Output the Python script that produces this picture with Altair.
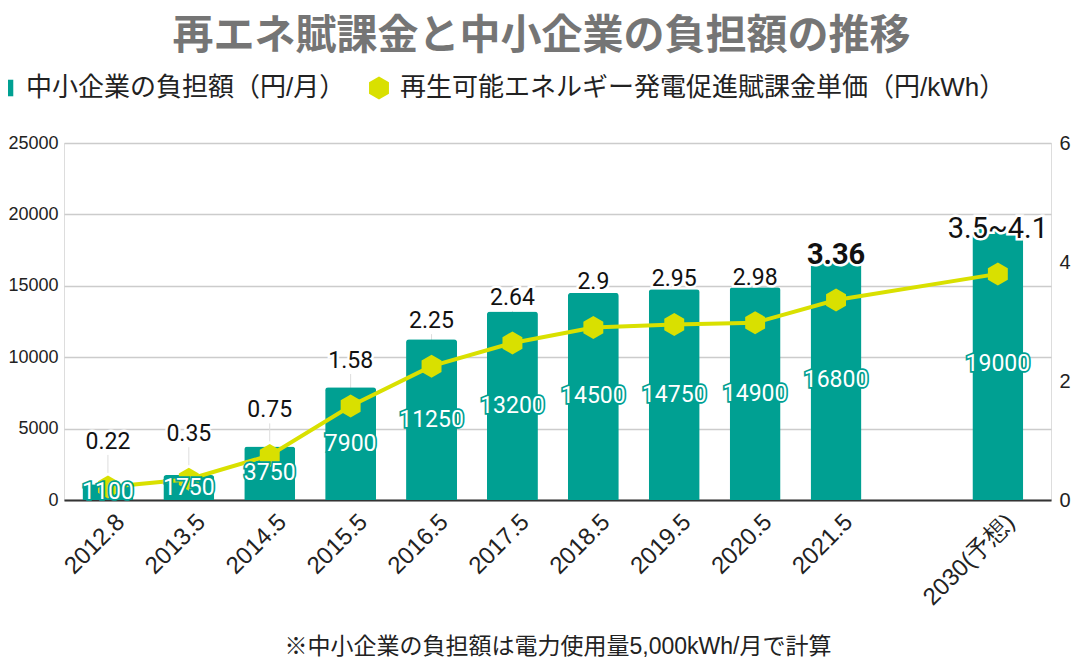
import altair as alt
import pandas as pd

# ---- data ----
categories = ["2012.8", "2013.5", "2014.5", "2015.5", "2016.5", "2017.5",
              "2018.5", "2019.5", "2020.5", "2021.5", " ", "2030(予想)"]
burden = [1100, 1750, 3750, 7900, 11250, 13200, 14500, 14750, 14900, 16800, None, 19000]
rate = [0.22, 0.35, 0.75, 1.58, 2.25, 2.64, 2.9, 2.95, 2.98, 3.36, None, 3.8]
rate_labels = ["0.22", "0.35", "0.75", "1.58", "2.25", "2.64", "2.9", "2.95",
               "2.98", "3.36", "", "3.5~4.1"]
rate_label_size = [23, 23, 23, 23, 23, 23, 23, 23, 23, 29, 0, 29]
rate_label_bold = [0, 0, 0, 0, 0, 0, 0, 0, 0, 1, 0, 0]

S1 = "中小企業の負担額（円/月）"
S2 = "再生可能エネルギー発電促進賦課金単価（円/kWh）"
TEAL = "#00a092"
YELLOW = "#d9e000"
HEX = "M0,-1L0.866,-0.5L0.866,0.5L0,1L-0.866,0.5L-0.866,-0.5Z"
SQUARE = "M-0.72,-0.72H0.72V0.72H-0.72Z"

bar_df = pd.DataFrame({"cat": categories, "burden": burden, "series": S1}).dropna()
line_df = pd.DataFrame({
    "cat": categories, "rate": rate, "label": rate_labels,
    "fs": rate_label_size, "bold": rate_label_bold, "series": S2,
}).dropna()
line_df["idx"] = range(len(line_df))

NUMFONT = "Roboto"
AXFONT = "Liberation Sans"
xscale = alt.Scale(domain=categories, paddingInner=0.37, paddingOuter=0.285, align=0.4)
yleft = alt.Scale(domain=[0, 25000], nice=False)
yright = alt.Scale(domain=[0, 6], nice=False)
legend = alt.Legend(
    title=None, orient="none", direction="horizontal", legendX=-72, legendY=-68,
    labelFontSize=26, labelFont="Liberation Sans, Noto Sans CJK JP", labelColor="#222",
    labelLimit=0, symbolSize=529, symbolStrokeWidth=0, labelOffset=8,
    columnPadding=20, padding=0,
)
color = alt.Color("series:N", scale=alt.Scale(domain=[S1, S2], range=[TEAL, YELLOW]),
                  legend=legend)
shape = alt.Shape("series:N", scale=alt.Scale(domain=[S1, S2], range=[SQUARE, HEX]),
                  legend=legend)

X = alt.X("cat:N", scale=xscale, sort=categories)
x_enc = alt.X("cat:N", scale=xscale, sort=categories, axis=alt.Axis(
    title="※中小企業の負担額は電力使用量5,000kWh/月で計算",
    titleFontSize=23, titleFont="Liberation Sans, Noto Sans CJK JP", titleFontWeight="normal",
    titleColor="#222", titleY=146, titleBaseline="middle",
    labelAngle=315, labelFontSize=24, labelFont=AXFONT, labelColor="#222",
    labelOffset=13, labelPadding=18, ticks=False, domainColor="#333", domainWidth=2,
))

def yl(field):
    return alt.Y(field, scale=yleft, axis=None)

def yr(field):
    return alt.Y(field, scale=yright, axis=None)

# leader lines (drawn behind the bars)
leaders = alt.Chart(line_df).mark_rule(color="#dddddd", strokeWidth=1, yOffset=-32, y2Offset=-14).encode(
    x=X, y=yr("rate:Q"), y2="rate:Q",
)

bars = alt.Chart(bar_df).mark_bar(cornerRadiusTopLeft=3, cornerRadiusTopRight=3).encode(
    x=x_enc,
    y=alt.Y("burden:Q", scale=yleft, axis=alt.Axis(
        title=None, orient="left", values=[0, 5000, 10000, 15000, 20000, 25000], format="d",
        grid=True, gridColor="#cccccc", gridWidth=1.5, domain=False, ticks=False,
        labelFontSize=18, labelFont=AXFONT, labelColor="#222", labelPadding=6)),
    color=color,
)

line = alt.Chart(line_df).mark_line(color=YELLOW, strokeWidth=4).encode(
    x=X,
    y=alt.Y("rate:Q", scale=yright, axis=alt.Axis(
        title=None, orient="right", values=[0, 2, 4, 6], grid=False, domain=False,
        ticks=False, labelFontSize=20, labelFont=AXFONT, labelColor="#222",
        labelPadding=8)),
    order="idx:Q",
)
points = alt.Chart(line_df).mark_point(filled=True, size=529, opacity=1).encode(
    x=X, y=yr("rate:Q"), color=color, shape=shape,
)

bar_base = alt.Chart(bar_df).transform_calculate(half="datum.burden / 2").encode(
    x=X, y=yl("half:Q"), text="burden:Q",
)
bar_halo = bar_base.mark_text(font=NUMFONT, fontSize=23, fill=TEAL, stroke=TEAL,
                              strokeWidth=3.5, baseline="middle")
bar_text = bar_base.mark_text(font=NUMFONT, fontSize=23, fill="white", baseline="middle")

lab_base = alt.Chart(line_df).encode(
    x=X, y=yr("rate:Q"), text="label:N",
    size=alt.Size("fs:Q", scale=None, legend=None),
)
lab_layers = []
for cond, weight in (("datum.bold == 0", "normal"), ("datum.bold == 1", "bold")):
    sub = lab_base.transform_filter(cond)
    lab_layers.append(sub.mark_text(font=NUMFONT, fontWeight=weight, dy=-45, baseline="middle",
                                    fill="white", stroke="white", strokeWidth=5))
    lab_layers.append(sub.mark_text(font=NUMFONT, fontWeight=weight, dy=-45, baseline="middle",
                                    fill="#111"))

chart = alt.layer(leaders, bars, line, points, bar_halo, bar_text, *lab_layers).resolve_scale(
    y="independent"
).properties(
    width=987, height=357,
    autosize=alt.AutoSizeParams(type="none"),
    padding={"left": 56, "top": 135, "right": 21, "bottom": 159},
    title=alt.TitleParams(
        "再エネ賦課金と中小企業の負担額の推移", anchor="middle",
        fontSize=41, fontWeight="bold", color="#757575", font="Noto Sans CJK JP",
        offset=17, dx=-16,
    ),
).configure_view(strokeWidth=0).configure(background="white")

chart.save("out.html", embed_options={"renderer": "svg", "actions": False})
